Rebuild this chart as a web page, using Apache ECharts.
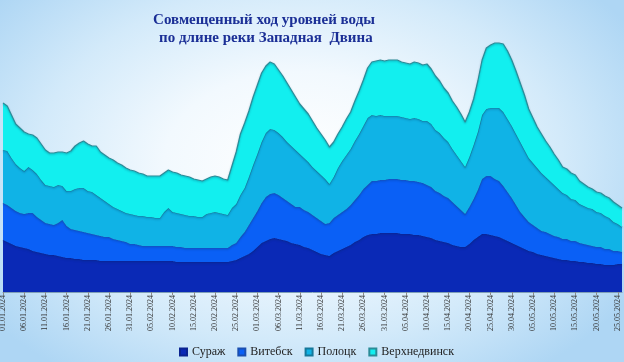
<!DOCTYPE html>
<html>
<head>
<meta charset="utf-8">
<script src="https://cdn.jsdelivr.net/npm/echarts@6/dist/echarts.min.js"></script>
<style>
html,body{margin:0;padding:0;width:624px;height:362px;overflow:hidden;
background:radial-gradient(ellipse 62% 72% at 48% 45%, #ffffff 0%, #f2f9fe 35%, #d3eafa 68%, #aed6f4 100%);}
#c{width:624px;height:362px;}
</style>
</head>
<body>
<div id="c"></div>
<script>
// Categories: daily dates 01.01.2024 .. 26.05.2024
const firstDay = [2024, 0, 1];
const dayCount = 147;
const categories = [];
for (let i = 0; i < dayCount; i++) {
  const d = new Date(Date.UTC(firstDay[0], firstDay[1], firstDay[2] + i));
  const dd = String(d.getUTCDate()).padStart(2, '0');
  const mm = String(d.getUTCMonth() + 1).padStart(2, '0');
  categories.push(dd + '.' + mm + '.' + d.getUTCFullYear());
}

const seriesNames = ['Сураж', 'Витебск', 'Полоцк', 'Верхнедвинск'];

const suraj = [
 52,50,48,46,45,44,43,41,40,39,
 38,37,37,36,35,34,34,33,33,32,
 32,32,32,31,31,31,31,31,31,31,
 31,31,31,31,31,31,31,31,31,31,
 31,30,30,30,30,30,30,30,30,30,
 30,30,30,30,31,32,34,36,38,41,
 45,49,51,53,54,53,52,51,49,48,
 47,45,44,42,40,38,37,36,39,41,
 43,45,47,50,52,55,57,58,58,59,
 59,59,59,59,58,58,58,57,57,56,
 55,54,52,51,50,49,47,46,45,45,
 48,52,55,58,58,57,56,55,53,51,
 49,47,45,43,41,40,38,37,36,35,
 34,33,32,32,31,31,30,30,29,29,
 28,28,27,27,27,28,28];

const vitebsk = [
 37,37,36,35,34,34,36,38,35,33,
 31,31,30,33,37,32,29,29,28,28,
 27,26,25,25,24,24,22,21,20,19,
 17,17,16,15,15,15,15,15,15,15,
 15,15,15,14,14,14,14,14,14,14,
 14,14,14,14,16,17,21,24,29,33,
 36,40,44,45,45,44,42,40,39,37,
 38,37,36,35,34,33,31,33,35,36,
 37,38,40,42,45,48,50,53,53,53,
 53,54,54,54,54,54,53,54,53,53,
 52,51,49,48,46,45,43,40,37,33,
 37,41,47,55,58,59,57,56,53,49,
 45,40,35,32,29,27,26,24,24,23,
 22,22,21,21,20,20,19,18,18,17,
 17,17,16,16,14,13,12];

const polotsk = [
 53,54,50,47,45,43,46,43,43,40,
 38,38,38,38,34,35,38,41,43,44,
 42,42,40,38,36,33,32,31,30,29,
 30,29,29,30,29,29,28,28,34,38,
 34,34,33,33,32,32,31,31,34,35,
 36,35,34,33,37,39,42,44,48,53,
 57,61,64,65,63,62,61,59,58,57,
 53,52,50,48,47,46,45,39,41,47,
 51,54,56,59,61,63,67,66,65,65,
 64,63,63,63,63,62,62,63,63,62,
 64,63,61,60,58,56,53,51,49,47,
 50,54,58,64,67,68,71,73,74,73,
 72,71,70,67,64,62,60,58,55,53,
 51,48,46,44,42,41,39,38,37,37,
 35,34,33,31,29,27,25];

const verkhnedvinsk = [
 47,45,43,40,40,39,33,35,36,36,
 35,33,34,33,34,38,40,43,45,47,
 47,46,49,46,46,46,47,46,46,45,
 44,44,43,42,41,41,42,42,39,38,
 40,40,39,39,39,37,37,36,35,36,
 36,36,35,35,42,52,61,65,66,68,
 69,69,67,67,66,63,61,59,56,53,
 50,49,48,46,43,41,39,37,35,34,
 34,36,37,40,43,46,50,53,55,55,
 55,56,56,56,55,55,55,56,56,56,
 57,55,54,52,50,49,48,48,47,45,
 45,46,51,55,61,63,65,65,68,68,
 66,63,59,55,49,45,41,39,36,34,
 31,29,26,26,26,25,23,22,21,20,
 20,20,20,20,20,19,19];

const seriesData = [suraj, vitebsk, polotsk, verkhnedvinsk];
const fillColors = ['#0a29b6', '#0a60f6', '#10b3e6', '#12efef'];
const edgeColors = ['#0a2390', '#1a4fb0', '#16789a', '#2a8c98'];

const chart = echarts.init(document.getElementById('c'), null, {renderer: 'canvas'});

const option = {
  backgroundColor: 'transparent',
  animation: false,
  graphic: [{
    type: 'text',
    x: 264,
    y: 11,
    style: {
      text: 'Совмещенный ход уровней воды\n по длине реки Западная  Двина',
      fill: '#1b2f96',
      font: 'bold 15px "Liberation Serif", "Times New Roman", serif',
      textAlign: 'center',
      textVerticalAlign: 'top',
      lineHeight: 18
    }
  }],
  legend: {
    data: seriesNames,
    left: 174,
    top: 341,
    itemWidth: 7,
    itemHeight: 7,
    itemGap: 12,
    icon: 'rect',
    textStyle: {
      fontFamily: '"Liberation Serif", "Times New Roman", serif',
      fontSize: 12,
      color: '#1e1e1e'
    }
  },
  grid: {
    left: 3,
    right: 2,
    top: 32,
    bottom: 70,
    containLabel: false,
    outerBoundsMode: 'none'
  },
  xAxis: {
    type: 'category',
    data: categories,
    boundaryGap: false,
    axisLine: {show: true, lineStyle: {color: '#7f9fb8', width: 1}},
    axisTick: {show: true, interval: 4, length: 3, lineStyle: {color: '#8c8c8c'}},
    axisLabel: {
      interval: 4,
      rotate: 90,
      margin: 3,
      fontSize: 8,
      fontFamily: '"Liberation Serif", "Times New Roman", serif',
      color: '#333333'
    },
    splitLine: {show: false}
  },
  yAxis: {
    type: 'value',
    min: 0,
    max: 260,
    show: false,
    splitLine: {show: false}
  },
  series: seriesNames.map(function (name, i) {
    return {
      name: name,
      type: 'line',
      stack: 'levels',
      data: seriesData[i],
      showSymbol: false,
      symbol: 'none',
      smooth: false,
      itemStyle: {color: fillColors[i], borderColor: edgeColors[i], borderWidth: 1},
      lineStyle: {
        color: edgeColors[i],
        width: 1.2,
        shadowColor: 'rgba(0,40,80,0.35)',
        shadowBlur: 2,
        shadowOffsetY: 1
      },
      areaStyle: {color: fillColors[i], opacity: 1},
      z: 2 + i
    };
  })
};

chart.setOption(option);
</script>
</body>
</html>
